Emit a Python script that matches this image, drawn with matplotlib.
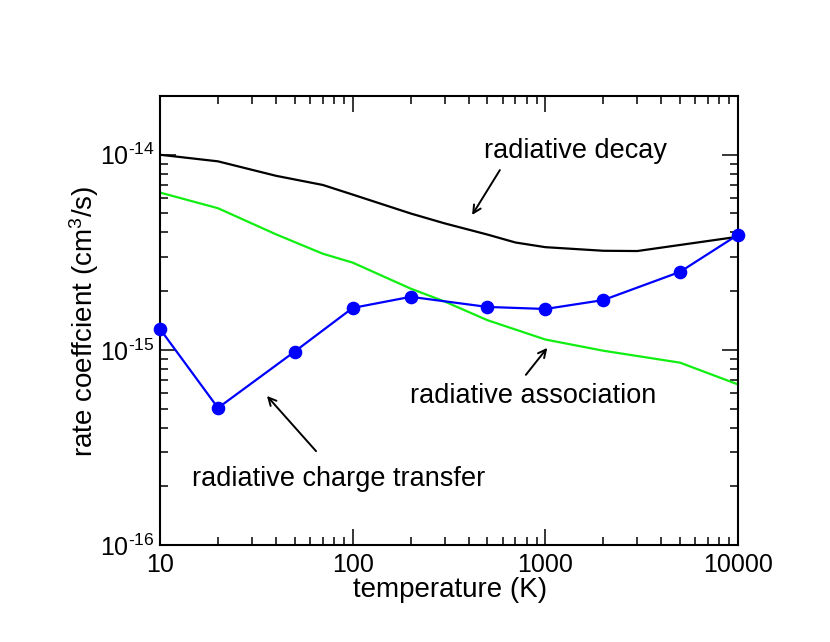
import matplotlib
matplotlib.use('Agg')
import matplotlib.pyplot as plt
from matplotlib.ticker import FixedLocator, FuncFormatter, LogLocator, NullFormatter
import numpy as np

plt.rcParams['font.family'] = ['Liberation Sans', 'DejaVu Sans']
plt.rcParams['mathtext.fontset'] = 'custom'
plt.rcParams['mathtext.rm'] = 'Liberation Sans'
plt.rcParams['mathtext.it'] = 'Liberation Sans:italic'
plt.rcParams['mathtext.bf'] = 'Liberation Sans:bold'

# ---- data ----
T_decay = [10, 20, 40, 70, 100, 200, 300, 500, 700, 1000, 2000, 3000, 10000]
k_decay = [1.0e-14, 9.25e-15, 7.8e-15, 7.0e-15, 6.25e-15, 5.0e-15, 4.45e-15,
           3.9e-15, 3.55e-15, 3.36e-15, 3.22e-15, 3.21e-15, 3.8e-15]

T_assoc = [10, 20, 40, 70, 100, 200, 300, 500, 1000, 2000, 5000, 10000]
k_assoc = [6.4e-15, 5.32e-15, 3.91e-15, 3.11e-15, 2.8e-15, 2.06e-15, 1.77e-15,
           1.42e-15, 1.13e-15, 0.99e-15, 0.86e-15, 0.665e-15]

T_ct = [10, 20, 50, 100, 200, 500, 1000, 2000, 5000, 10000]
k_ct = [1.28e-15, 5.04e-16, 0.98e-15, 1.64e-15, 1.87e-15, 1.66e-15, 1.62e-15,
        1.80e-15, 2.51e-15, 3.89e-15]

x_ticks = [10, 100, 1000, 10000]
y_ticks = [1e-16, 1e-15, 1e-14]

fig = plt.figure(figsize=(8.30, 6.42), dpi=100)
ax = fig.add_axes([160/830, 1-545/642, 578/830, 449/642])

ax.plot(T_assoc, k_assoc, color='#11ee11', lw=1.6)
ax.plot(T_decay, k_decay, color='black', lw=1.6)
ax.plot(T_ct, k_ct, color='#0000ff', lw=1.6, marker='o', ms=8.8,
        clip_on=False, zorder=5)

ax.set_xscale('log')
ax.set_yscale('log')
ax.set_xlim(10, 10000)
ax.set_ylim(1e-16, 2e-14)

ax.xaxis.set_major_locator(FixedLocator(x_ticks))
ax.xaxis.set_major_formatter(FuncFormatter(lambda v, p: '%d' % round(v)))
ax.yaxis.set_major_locator(FixedLocator(y_ticks))
ax.yaxis.set_major_formatter(FuncFormatter(
    lambda v, p: r'$10^{\text{-%d}}$' % abs(round(np.log10(v)))))
ax.xaxis.set_minor_locator(LogLocator(base=10, subs=range(2, 10)))
ax.yaxis.set_minor_locator(LogLocator(base=10, subs=range(2, 10)))
ax.xaxis.set_minor_formatter(NullFormatter())
ax.yaxis.set_minor_formatter(NullFormatter())

ax.tick_params(which='both', direction='in', top=True, right=True, width=1.1)
ax.tick_params(which='major', length=11.5, labelsize=18)
ax.tick_params(which='minor', length=6)
ax.tick_params(axis='x', pad=5.5)
ax.tick_params(axis='y', pad=4)
for s in ax.spines.values():
    s.set_linewidth(1.5)

fig.text(450/830, 1-590/642, 'temperature (K)', ha='center', va='center', fontsize=20)
fig.text(84/830, 1-321/642, 'rate coeffcient (cm$^3$/s)', ha='center', va='center',
         rotation=90, fontsize=20)

arrow = dict(arrowstyle='->', color='black', lw=1.4, mutation_scale=14,
             shrinkA=0, shrinkB=0)
ax.annotate('', xy=(0.540, 0.735), xytext=(0.588, 0.835),
            xycoords='axes fraction', textcoords='axes fraction', arrowprops=arrow)
ax.annotate('', xy=(0.670, 0.439), xytext=(0.633, 0.379),
            xycoords='axes fraction', textcoords='axes fraction', arrowprops=arrow)
ax.annotate('', xy=(0.185, 0.332), xytext=(0.270, 0.209),
            xycoords='axes fraction', textcoords='axes fraction', arrowprops=arrow)

ax.text(0.718, 0.862, 'radiative decay', transform=ax.transAxes,
        ha='center', va='baseline', fontsize=19.5)
ax.text(0.646, 0.316, 'radiative association', transform=ax.transAxes,
        ha='center', va='baseline', fontsize=19.5)
ax.text(0.309, 0.131, 'radiative charge transfer', transform=ax.transAxes,
        ha='center', va='baseline', fontsize=19.5)

fig.savefig('out.png', dpi=100)
